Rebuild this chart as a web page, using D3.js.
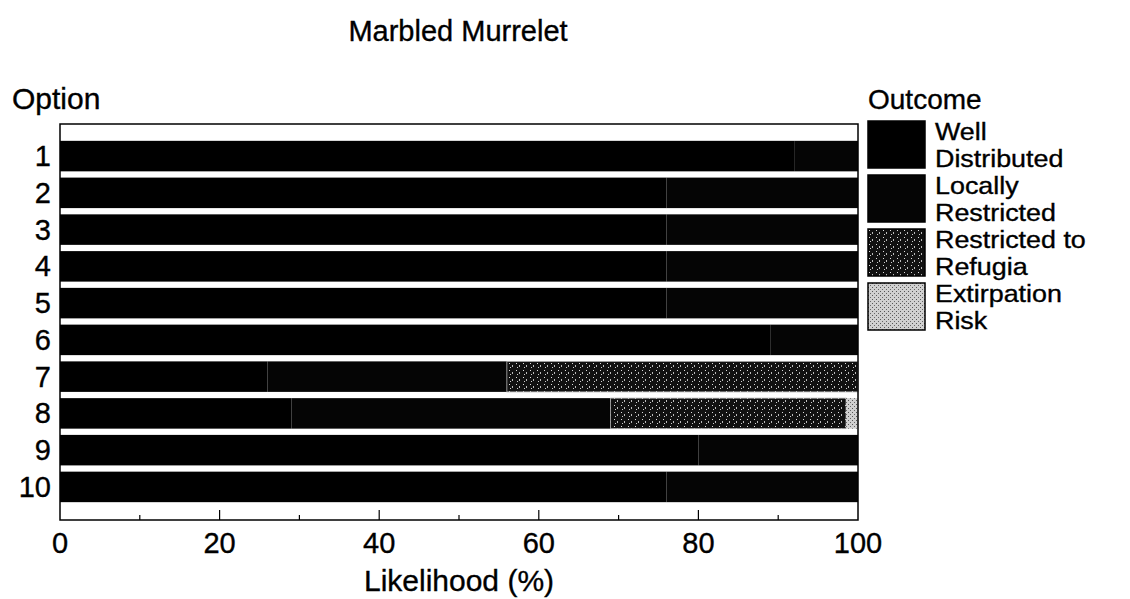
<!DOCTYPE html>
<html>
<head>
<meta charset="utf-8">
<script src="https://cdn.jsdelivr.net/npm/d3@7"></script>
<style>
  html, body { margin: 0; padding: 0; background: #fff; }
  svg { display: block; font-family: "Liberation Sans", Arial, sans-serif; }
  svg text { fill: #000; stroke: #000; stroke-width: 0.35; }
</style>
</head>
<body>
<svg id="chart" width="1130" height="599"></svg>
<script>
// ---- data ----
const options = ["1", "2", "3", "4", "5", "6", "7", "8", "9", "10"];
const outcomes = ["Well Distributed", "Locally Restricted", "Restricted to Refugia", "Extirpation Risk"];
const legendLines = [["Well", "Distributed"], ["Locally", "Restricted"], ["Restricted to", "Refugia"], ["Extirpation", "Risk"]];
const wellDistributed    = [92, 76, 76, 76, 76, 89, 26, 29, 80, 76];
const locallyRestricted  = [8, 24, 24, 24, 24, 11, 30, 40, 20, 24];
const restrictedRefugia  = [0, 0, 0, 0, 0, 0, 44, 29.5, 0, 0];
const extirpationRisk    = [0, 0, 0, 0, 0, 0, 0, 1.5, 0, 0];
const xTicks = [0, 20, 40, 60, 80, 100];
const xMinorTicks = [10, 30, 50, 70, 90];

const table = options.map((o, i) => ({
  option: o,
  "Well Distributed": wellDistributed[i],
  "Locally Restricted": locallyRestricted[i],
  "Restricted to Refugia": restrictedRefugia[i],
  "Extirpation Risk": extirpationRisk[i]
}));

const svg = d3.select("#chart");
const margin = { left: 60, right: 1130 - 858, top: 124, bottom: 599 - 520 };
const W = 1130 - margin.left - margin.right;
const H = 599 - margin.top - margin.bottom;

// patterns
const defs = svg.append("defs");
const pRef = defs.append("pattern").attr("id", "refugia").attr("patternUnits", "userSpaceOnUse")
  .attr("width", 7).attr("height", 7);
pRef.append("rect").attr("width", 7).attr("height", 7).attr("fill", "#111");
pRef.append("rect").attr("x", 1).attr("y", 1).attr("width", 1).attr("height", 1).attr("fill", "#ddd");
pRef.append("rect").attr("x", 4).attr("y", 3).attr("width", 1).attr("height", 2).attr("fill", "#bbb");
pRef.append("rect").attr("x", 2).attr("y", 5).attr("width", 1).attr("height", 1).attr("fill", "#ccc");
const pExt = defs.append("pattern").attr("id", "extirp").attr("patternUnits", "userSpaceOnUse")
  .attr("width", 4).attr("height", 4);
pExt.append("rect").attr("width", 4).attr("height", 4).attr("fill", "#d0d0d0");
pExt.append("rect").attr("x", 0).attr("y", 0).attr("width", 1).attr("height", 1).attr("fill", "#555");
pExt.append("rect").attr("x", 2).attr("y", 2).attr("width", 1).attr("height", 1).attr("fill", "#666");

const fills = {
  "Well Distributed": "#000",
  "Locally Restricted": "#050505",
  "Restricted to Refugia": "url(#refugia)",
  "Extirpation Risk": "url(#extirp)"
};

const g = svg.append("g").attr("transform", `translate(${margin.left},${margin.top})`);

const x = d3.scaleLinear().domain([0, 100]).range([0, W]);
const y = d3.scaleBand().domain(options).range([15, H - 16]).paddingInner(0.17).paddingOuter(0.05);

const series = d3.stack().keys(outcomes)(table);

g.selectAll("g.series").data(series).join("g")
  .attr("class", "series")
  .attr("fill", d => fills[d.key])
  .attr("stroke", d => d.key === "Restricted to Refugia" ? "#aaa" : "none")
  .attr("stroke-width", 0.8)
  .selectAll("rect").data(d => d.filter(s => s[1] - s[0] > 0)).join("rect")
  .attr("x", d => x(d[0]))
  .attr("y", d => y(d.data.option))
  .attr("width", d => x(d[1]) - x(d[0]))
  .attr("height", y.bandwidth());

// frame
g.append("rect").attr("x", 0).attr("y", 0).attr("width", W).attr("height", H)
  .attr("fill", "none").attr("stroke", "#000").attr("stroke-width", 1.5);

// x ticks (inside, pointing up)
g.selectAll("line.major").data(xTicks.slice(1, -1)).join("line")
  .attr("x1", d => x(d)).attr("x2", d => x(d)).attr("y1", H).attr("y2", H - 10)
  .attr("stroke", "#000").attr("stroke-width", 1.2);
g.selectAll("line.minor").data(xMinorTicks).join("line")
  .attr("x1", d => x(d)).attr("x2", d => x(d)).attr("y1", H).attr("y2", H - 5)
  .attr("stroke", "#000").attr("stroke-width", 1.2);

// x tick labels
g.selectAll("text.xt").data(xTicks).join("text")
  .attr("x", d => x(d)).attr("y", H + 33)
  .attr("text-anchor", "middle").attr("font-size", 29).text(d => d);

// y labels
g.selectAll("text.yt").data(options).join("text")
  .attr("x", -9).attr("y", d => y(d) + y.bandwidth() / 2 + 10)
  .attr("text-anchor", "end").attr("font-size", 29).text(d => d);

// titles
svg.append("text").attr("x", 458).attr("y", 41).attr("text-anchor", "middle")
  .attr("font-size", 29).text("Marbled Murrelet");
svg.append("text").attr("x", 12).attr("y", 109).attr("font-size", 30).text("Option");
svg.append("text").attr("x", margin.left + W / 2).attr("y", 591).attr("text-anchor", "middle")
  .attr("font-size", 30).text("Likelihood (%)");

// legend
const leg = svg.append("g").attr("transform", "translate(868,0)");
leg.append("text").attr("x", 0).attr("y", 109).attr("font-size", 28).text("Outcome");
const items = leg.selectAll("g.item").data(outcomes).join("g")
  .attr("transform", (d, i) => `translate(0,${121 + i * 54})`);
items.append("rect").attr("width", 57).attr("height", 47)
  .attr("fill", d => fills[d]).attr("stroke", "#000").attr("stroke-width", 1.5);
items.each(function(d, i) {
  legendLines[i].forEach((line, j) => {
    d3.select(this).append("text")
      .attr("x", 67).attr("y", 19 + j * 27)
      .attr("font-size", 24)
      .attr("transform", "translate(67,0) scale(1.12,1) translate(-67,0)")
      .text(line);
  });
});
</script>
</body>
</html>
